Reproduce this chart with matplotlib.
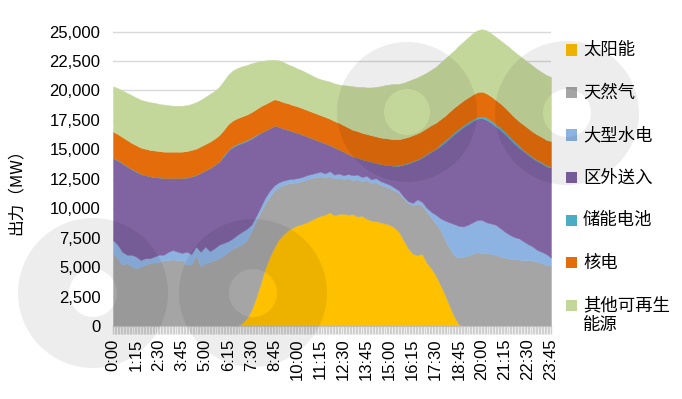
import matplotlib
matplotlib.use('Agg')
import matplotlib.pyplot as plt
from matplotlib.patches import Wedge, Rectangle
from matplotlib.transforms import IdentityTransform
import numpy as np

# 15-minute intervals over one day
times = [f'{h}:{m:02d}' for h in range(24) for m in (0, 15, 30, 45)]

solar = [0, 0, 0, 0, 0, 0, 0, 0, 0, 0, 0, 0,
         0, 0, 0, 0, 0, 0, 0, 0, 0, 0, 0, 0,
         0, 0, 0, 0, 250, 650, 1350, 2400, 3600, 4900, 5900, 6700,
         7400, 7800, 8150, 8350, 8550, 8650, 8800, 9000, 9200, 9350, 9450, 9650,
         9400, 9500, 9550, 9450, 9500, 9300, 9350, 9100, 8950, 8900, 8800, 8700,
         8600, 8350, 8000, 7300, 6600, 6150, 6000, 6150, 5400, 4900, 4300, 3500,
         2650, 1700, 800, 150, 0, 0, 0, 0, 0, 0, 0, 0,
         0, 0, 0, 0, 0, 0, 0, 0, 0, 0, 0, 0]

gas = [6100, 5750, 5200, 5350, 5050, 4900, 5050, 5200, 5350, 5400, 5450, 5600,
       5600, 5650, 5600, 5600, 5200, 5250, 6000, 5050, 5350, 5450, 5600, 5750,
       6000, 6300, 6600, 6750, 6700, 6650, 6650, 6500, 6100, 5500, 5100, 4800,
       4400, 4200, 3950, 3800, 3650, 3650, 3650, 3550, 3450, 3350, 3150, 3100,
       3100, 3100, 2900, 3100, 2900, 3150, 2950, 3300, 3200, 3300, 3200, 3150,
       3100, 3150, 3300, 3550, 3850, 4100, 4400, 4100, 4300, 4300, 4400, 4700,
       4650, 4900, 5200, 5650, 5850, 6000, 6150, 6300, 6150, 6200, 6100, 6050,
       5900, 5800, 5700, 5650, 5650, 5600, 5600, 5550, 5450, 5350, 5200, 5100]

hydro = [1200, 1150, 1100, 700, 1000, 1000, 550, 550, 400, 500, 600, 450,
         700, 800, 700, 600, 1100, 850, 750, 1250, 1400, 900, 1000, 1150,
         1050, 900, 850, 1000, 1050, 950, 600, 400, 400, 500, 500, 450,
         400, 350, 350, 350, 350, 350, 350, 350, 350, 400, 350, 400,
         350, 350, 350, 350, 400, 400, 350, 350, 300, 350, 300, 300,
         300, 250, 200, 150, 150, 200, 350, 300, 350, 500, 750, 950,
         1650, 2200, 2650, 2700, 2600, 2600, 2650, 2700, 2850, 2600, 2600, 2550,
         2400, 2200, 2050, 1900, 1800, 1600, 1350, 1200, 1000, 950, 900, 700]

imports = [6950, 7150, 7500, 7500, 7250, 7200, 7300, 7050, 6950, 6750, 6550, 6500,
           6250, 6100, 6250, 6350, 6300, 6600, 6050, 6700, 6450, 7050, 7050, 7050,
           7350, 7700, 7750, 7650, 7550, 7450, 7300, 6850, 6300, 5700, 5300, 5050,
           4700, 4400, 4200, 4000, 3850, 3600, 3300, 3050, 2800, 2550, 2550, 2200,
           2300, 2050, 2000, 1700, 1600, 1450, 1500, 1300, 1500, 1300, 1450, 1550,
           1650, 1850, 2100, 2700, 3200, 3500, 3350, 3750, 4500, 5100, 5550, 6150,
           6650, 7150, 7650, 8100, 8450, 8550, 8600, 8600, 8650, 8700, 8550, 8350,
           8350, 8300, 8150, 7950, 7700, 7650, 7600, 7500, 7550, 7500, 7450, 7650]

battery = [40, 40, 40, 40, 40, 40, 20, 20, 20, 20, 20, 20,
           20, 20, 20, 20, 20, 20, 20, 20, 20, 20, 20, 20,
           80, 80, 80, 80, 80, 80, 80, 80, 10, 10, 10, 10,
           10, 10, 10, 10, 10, 10, 10, 10, 10, 10, 10, 10,
           10, 10, 10, 10, 10, 10, 10, 10, 10, 10, 10, 10,
           10, 10, 60, 60, 60, 60, 60, 60, 60, 60, 60, 150,
           150, 150, 150, 150, 150, 150, 150, 150, 150, 200, 200, 200,
           200, 200, 200, 200, 200, 100, 100, 100, 100, 100, 100, 100]

nuclear = [2210, 2210, 2210, 2210, 2210, 2210, 2230, 2230, 2230, 2230, 2230, 2230,
           2230, 2230, 2230, 2230, 2230, 2230, 2230, 2230, 2230, 2230, 2230, 2230,
           2170, 2170, 2170, 2170, 2170, 2170, 2170, 2170, 2240, 2240, 2240, 2240,
           2240, 2240, 2240, 2240, 2240, 2240, 2240, 2240, 2240, 2240, 2240, 2240,
           2240, 2240, 2240, 2240, 2240, 2240, 2240, 2240, 2240, 2240, 2240, 2240,
           2240, 2240, 2190, 2190, 2190, 2190, 2190, 2190, 2190, 2190, 2190, 2100,
           2100, 2100, 2100, 2100, 2100, 2100, 2100, 2100, 2100, 2050, 2050, 2050,
           2050, 2050, 2050, 2050, 2050, 2150, 2150, 2150, 2150, 2150, 2150, 2150]

other = [3850, 3900, 3950, 4000, 4050, 4050, 4050, 4050, 4050, 4050, 4000, 4000,
         3950, 3900, 3900, 3900, 3900, 3900, 3950, 3950, 4000, 4050, 4050, 4100,
         4150, 4200, 4250, 4250, 4250, 4200, 4150, 4000, 3850, 3700, 3550, 3350,
         3400, 3400, 3300, 3300, 3200, 3200, 3150, 3100, 3050, 3050, 3100, 3150,
         3200, 3250, 3400, 3550, 3700, 3750, 3900, 3950, 4050, 4200, 4350, 4500,
         4600, 4700, 4700, 4700, 4750, 4750, 4750, 4750, 4700, 4700, 4750, 4800,
         4850, 4850, 4850, 4950, 5000, 5100, 5200, 5250, 5300, 5350, 5350, 5350,
         5350, 5400, 5500, 5550, 5600, 5600, 5600, 5600, 5550, 5500, 5500, 5450]

labels = ['太阳能', '天然气', '大型水电', '区外送入', '储能电池', '核电', '其他可再生\n能源']
colors = ['#FFC000', '#A5A5A5', '#8DB3E2', '#8064A2', '#4BACC6', '#E46C0A', '#C4D79B']

cjk = ['Noto Sans CJK SC', 'DejaVu Sans']
num_font = 'Liberation Sans'

fig = plt.figure(figsize=(6.82, 3.99), dpi=100)
ax = fig.add_axes([113 / 682, 1 - 326 / 399, 438 / 682, 298 / 399])

x = np.arange(len(times))
ax.stackplot(x, solar, gas, hydro, imports, battery, nuclear, other,
             colors=colors, edgecolor='face', linewidth=0.3)

ax.set_xlim(0, len(times) - 1)
ax.set_ylim(0, 25300)
yt = list(range(0, 25001, 2500))
ax.set_yticks(yt)
ax.set_yticklabels([f'{v:,}' for v in yt], fontsize=12, family=num_font)
ax.yaxis.grid(True, color='#d9d9d9', linewidth=1)
ax.set_axisbelow(True)
ax.tick_params(axis='y', length=0, pad=9)

ax.set_xticks(x[::5])
ax.set_xticklabels(times[::5], rotation=90, fontsize=12, family=num_font)
ax.set_xticks(np.arange(0, len(times) - 0.9, 1 / 3), minor=True)
ax.tick_params(axis='x', which='both', length=6, color='#d0d0d0', width=1, pad=3)

for s in ['top', 'right', 'left']:
    ax.spines[s].set_visible(False)
ax.spines['bottom'].set_color('#bfbfbf')

ax.set_ylabel('出力（MW）', fontsize=12, family=cjk)
ax.yaxis.set_label_coords((25 - 113) / 438, (326 - 188) / 298)

# legend, drawn by hand to match the spacing of the original
for k, (lab, col) in enumerate(zip(labels, colors)):
    yc = 399 - (50 + k * 42.5)
    fig.add_artist(Rectangle((566 / 682, (yc - 5.5) / 399), 11 / 682, 11 / 399,
                             transform=fig.transFigure, facecolor=col, edgecolor='none'))
    if '\n' in lab:
        fig.text(583 / 682, (yc + 9) / 399, lab, fontsize=12.5, family=cjk,
                 va='top', ha='left', linespacing=1.15)
    else:
        fig.text(583 / 682, yc / 399, lab, fontsize=12.5, family=cjk,
                 va='center', ha='left')

# faint logo watermark
for cx, cy, r_out, r_in in [(93, 293, 75, 24), (253, 293, 74, 24),
                            (407, 112, 70, 23), (567, 113, 72, 24)]:
    w = Wedge((cx, 399 - cy), r_out, 0, 360, width=r_out - r_in,
              transform=IdentityTransform(), facecolor='black', alpha=0.07,
              edgecolor='none', zorder=10)
    fig.add_artist(w)

fig.savefig('out.png', dpi=100)
